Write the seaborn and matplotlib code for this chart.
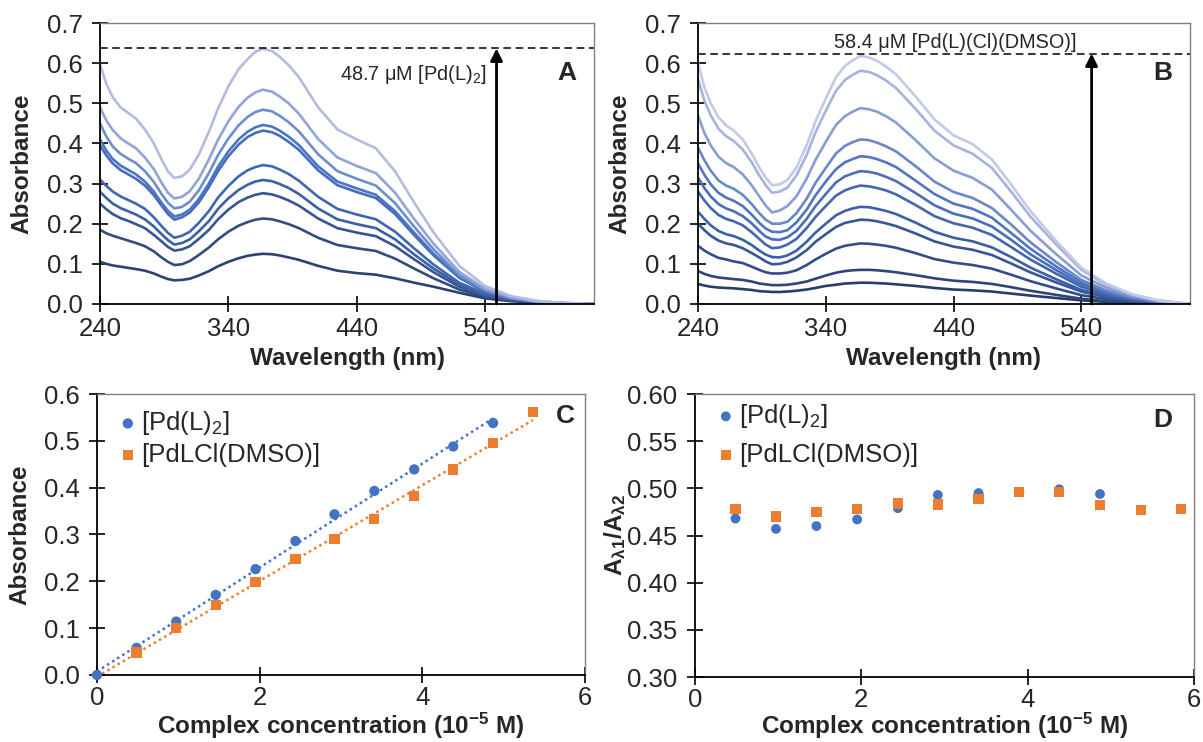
# -*- coding: utf-8 -*-
"""
UV-vis titration spectra of two Pd complexes and Beer-Lambert check
"""

import numpy as np
import pandas as pd
import seaborn as sns
import matplotlib.pyplot as plt
from matplotlib.ticker import FormatStrFormatter

# set theme
sns.set_theme(style="white")
plt.rcParams['font.family'] = ['Liberation Sans', 'DejaVu Sans']
plt.rcParams['mathtext.fontset'] = 'custom'
plt.rcParams['mathtext.rm'] = 'Liberation Sans'
plt.rcParams['mathtext.bf'] = 'Liberation Sans:bold'
plt.rcParams['mathtext.default'] = 'regular'

# wavelengths (nm) at which the spectra were read
wl = [240, 245, 250, 256, 262, 268, 275, 282, 288, 293, 298, 304, 310, 317, 325, 332, 340, 348, 355,
      361, 367, 374, 380, 387, 395, 410, 425, 440, 455, 470, 485, 500, 520, 540, 560, 580, 600, 625]

# panel A: [Pd(L)2] spectra, lowest to highest concentration
spectra_a = [
    [.105, .100, .096, .093, .090, .087, .083, .076, .068, .062, .059, .060, .063, .071, .082, .094, .105, .114, .120,
     .123, .125, .124, .121, .116, .110, .095, .083, .077, .073, .064, .053, .043, .028, .014, .007, .003, .001, 0],
    [.185, .176, .170, .164, .158, .152, .144, .131, .116, .105, .097, .099, .107, .122, .141, .161, .180, .195, .204,
     .210, .213, .211, .206, .199, .189, .165, .147, .139, .132, .113, .088, .064, .036, .018, .009, .004, .002, 0],
    [.250, .236, .224, .214, .207, .199, .189, .172, .156, .142, .133, .136, .144, .162, .185, .211, .235, .254, .265,
     .272, .276, .273, .267, .258, .245, .213, .189, .178, .169, .144, .111, .079, .043, .021, .010, .004, .002, 0],
    [.280, .264, .250, .239, .231, .223, .211, .193, .174, .159, .148, .152, .161, .181, .207, .237, .263, .284, .297,
     .305, .309, .306, .299, .289, .274, .238, .211, .199, .189, .161, .123, .088, .048, .023, .011, .005, .002, 0],
    [.310, .294, .280, .268, .259, .250, .237, .216, .194, .177, .165, .170, .180, .202, .232, .265, .294, .318, .333,
     .341, .346, .343, .335, .324, .307, .267, .237, .223, .211, .180, .138, .098, .053, .026, .012, .005, .002, 0],
    [.395, .370, .350, .334, .323, .312, .295, .271, .245, .224, .210, .216, .228, .253, .292, .331, .368, .397, .416,
     .426, .432, .428, .419, .404, .384, .333, .296, .279, .264, .224, .171, .121, .065, .031, .014, .006, .002, 0],
    [.410, .382, .361, .345, .334, .323, .305, .280, .252, .232, .218, .223, .235, .261, .301, .342, .380, .410, .429,
     .440, .446, .442, .432, .417, .396, .343, .305, .288, .272, .231, .177, .125, .067, .032, .014, .006, .002, 0],
    [.450, .417, .392, .374, .362, .351, .331, .304, .274, .252, .238, .242, .255, .283, .327, .371, .412, .445, .466,
     .478, .484, .480, .469, .453, .430, .373, .331, .312, .295, .251, .192, .136, .072, .035, .015, .006, .002, 0],
    [.490, .457, .433, .413, .400, .388, .365, .336, .302, .277, .263, .267, .281, .312, .361, .409, .455, .491, .514,
     .527, .534, .529, .517, .500, .474, .411, .365, .344, .326, .277, .211, .150, .080, .038, .017, .007, .003, 0],
    [.598, .548, .515, .490, .476, .462, .435, .400, .360, .330, .314, .318, .335, .372, .430, .487, .542, .585, .610,
     .628, .636, .630, .616, .595, .565, .490, .435, .410, .388, .330, .252, .178, .095, .045, .020, .008, .003, 0],
]

# panel B: [Pd(L)(Cl)(DMSO)] spectra, lowest to highest concentration
spectra_b = [
    [.050, .046, .043, .041, .040, .039, .037, .035, .032, .031, .030, .030, .031, .033, .036, .040, .045, .048, .051,
     .052, .053, .053, .052, .051, .049, .045, .040, .036, .034, .031, .026, .021, .015, .009, .005, .002, .001, 0],
    [.082, .075, .070, .066, .064, .062, .060, .056, .051, .049, .047, .047, .048, .051, .056, .063, .071, .078, .082,
     .084, .085, .085, .084, .082, .079, .072, .064, .058, .055, .050, .042, .033, .023, .013, .007, .004, .001, 0],
    [.145, .133, .124, .115, .111, .106, .102, .093, .085, .079, .076, .076, .078, .084, .097, .111, .125, .138, .145,
     .148, .151, .150, .148, .145, .140, .127, .112, .103, .097, .088, .073, .057, .039, .022, .012, .006, .002, 0],
    [.200, .184, .170, .158, .151, .147, .139, .127, .116, .106, .099, .100, .105, .116, .134, .155, .174, .192, .202,
     .206, .210, .209, .206, .201, .194, .176, .156, .143, .135, .122, .101, .079, .054, .031, .017, .008, .003, 0],
    [.230, .212, .196, .182, .174, .169, .160, .147, .133, .123, .117, .116, .121, .133, .155, .178, .200, .221, .232,
     .238, .242, .241, .237, .232, .224, .203, .180, .165, .156, .141, .117, .091, .062, .035, .020, .010, .004, 0],
    [.280, .258, .239, .222, .212, .206, .196, .179, .162, .148, .139, .141, .148, .162, .189, .217, .244, .270, .283,
     .290, .295, .293, .289, .283, .273, .247, .219, .201, .190, .172, .142, .111, .076, .043, .024, .012, .004, 0],
    [.315, .289, .268, .249, .238, .231, .219, .201, .182, .168, .161, .160, .166, .182, .212, .244, .274, .303, .318,
     .325, .331, .329, .325, .317, .306, .277, .246, .225, .213, .193, .160, .124, .085, .048, .027, .013, .005, 0],
    [.350, .322, .298, .277, .265, .257, .244, .223, .202, .188, .180, .179, .184, .203, .235, .271, .305, .336, .353,
     .361, .368, .366, .361, .353, .341, .308, .274, .250, .237, .215, .177, .138, .094, .054, .030, .015, .006, 0],
    [.390, .358, .332, .308, .295, .287, .272, .249, .226, .210, .200, .200, .205, .226, .262, .302, .339, .375, .394,
     .403, .410, .408, .402, .393, .380, .344, .305, .279, .264, .239, .198, .154, .105, .060, .033, .016, .006, 0],
    [.470, .426, .395, .367, .351, .341, .323, .296, .268, .245, .228, .233, .244, .268, .312, .359, .404, .446, .468,
     .479, .488, .485, .479, .468, .452, .409, .363, .332, .314, .285, .235, .183, .125, .071, .040, .020, .007, 0],
    [.560, .507, .470, .437, .418, .406, .385, .353, .320, .296, .277, .280, .290, .320, .371, .428, .481, .531, .558,
     .571, .581, .578, .570, .557, .538, .487, .432, .395, .374, .339, .280, .218, .149, .085, .047, .023, .009, 0],
    [.600, .540, .500, .465, .445, .432, .410, .375, .340, .315, .296, .298, .309, .340, .395, .455, .512, .565, .593,
     .607, .618, .614, .606, .592, .572, .518, .460, .420, .398, .360, .298, .232, .158, .090, .050, .024, .009, 0],
]

# panel C: absorbance vs concentration (1e-5 M)
conc_pdl2 = [0, 0.487, 0.974, 1.46, 1.95, 2.44, 2.92, 3.41, 3.90, 4.38, 4.87]
abs_pdl2 = [0, 0.058, 0.114, 0.171, 0.226, 0.286, 0.343, 0.393, 0.439, 0.488, 0.538]
conc_pdlcl = [0.487, 0.974, 1.46, 1.95, 2.44, 2.92, 3.41, 3.90, 4.38, 4.87, 5.36]
abs_pdlcl = [0.048, 0.100, 0.149, 0.198, 0.248, 0.291, 0.333, 0.382, 0.439, 0.496, 0.562]

# panel D: absorbance ratio vs concentration
ratio_conc_pdl2 = [0.487, 0.974, 1.46, 1.95, 2.44, 2.92, 3.41, 3.90, 4.38, 4.87]
ratio_pdl2 = [0.468, 0.457, 0.460, 0.467, 0.479, 0.493, 0.495, 0.496, 0.499, 0.494]
ratio_conc_pdlcl = [0.487, 0.974, 1.46, 1.95, 2.44, 2.92, 3.41, 3.90, 4.38, 4.87, 5.36, 5.84]
ratio_pdlcl = [0.478, 0.470, 0.475, 0.478, 0.484, 0.483, 0.489, 0.496, 0.496, 0.482, 0.477, 0.478]

label_pdl2 = '[Pd(L)$_2$]'
label_pdlcl = '[PdLCl(DMSO)]'
blue = '#4472C4'
orange = '#ED7D31'

TICK = 18.5
LABEL = 17.5


def long_form(spectra):
    rows = []
    for i, s in enumerate(spectra):
        for w, v in zip(wl, s, strict=True):
            rows.append((w, v, i))
    return pd.DataFrame(rows, columns=['wl', 'abs', 'curve'])


def style(ax, xpad=4):
    for s in ['left', 'bottom']:
        ax.spines[s].set_color('black')
        ax.spines[s].set_linewidth(1.3)
    for s in ['top', 'right']:
        ax.spines[s].set_color('#808080')
        ax.spines[s].set_linewidth(1.0)
    ax.tick_params(direction='inout', length=11, width=1.2, labelsize=TICK,
                   color='black', top=False, right=False, left=True, bottom=True)
    ax.tick_params(axis='y', pad=7)
    ax.tick_params(axis='x', pad=xpad)
    ax.grid(False)


fig = plt.figure(figsize=(12.03, 7.42), dpi=100)
axA = fig.add_axes([0.0831, 0.5903, 0.4107, 0.3787])
axB = fig.add_axes([0.5802, 0.5903, 0.4090, 0.3787])
axC = fig.add_axes([0.0806, 0.0903, 0.4057, 0.3787])
axD = fig.add_axes([0.5777, 0.0876, 0.4148, 0.3814])

# spectra panels
pal_a = sns.blend_palette(['#2c4372', '#3d5fa6', '#4a74c6', '#b3bcdf'], len(spectra_a))
pal_b = sns.blend_palette(['#283d6a', '#3b5ca3', '#5478c4', '#c3c9e6'], len(spectra_b))
panels = [
    (axA, spectra_a, pal_a, 0.6365, 549, 'A',
     ('48.7 μM [Pd(L)$_2$]', 541, 0.572, 'right')),
    (axB, spectra_b, pal_b, 0.624, 548, 'B',
     ('58.4 μM [Pd(L)(Cl)(DMSO)]', 441, 0.652, 'center')),
]
for ax, spectra, pal, top, x_arrow, letter, note in panels:
    sns.lineplot(data=long_form(spectra), x='wl', y='abs', hue='curve',
                 palette=pal, legend=False, linewidth=1.9, ax=ax)
    ax.axhline(top, color='black', lw=1.1, ls=(0, (5, 3)))
    ax.annotate('', xy=(x_arrow, top), xytext=(x_arrow, 0),
                arrowprops=dict(arrowstyle='-|>', lw=2.0, color='black',
                                mutation_scale=18, shrinkA=0, shrinkB=0))
    ax.text(note[1], note[2], note[0], fontsize=14.3, color='#262626',
            ha=note[3], va='center')
    ax.text(604, 0.576, letter, fontsize=19, fontweight='bold',
            ha='center', va='center')
    ax.set_xlim(240, 625)
    ax.set_ylim(0, 0.7)
    ax.set_xticks([240, 340, 440, 540])
    ax.set_yticks(np.arange(0, 0.71, 0.1))
    ax.yaxis.set_major_formatter(FormatStrFormatter('%.1f'))
    ax.set_xlabel('Wavelength (nm)', fontsize=LABEL, fontweight='bold')
    ax.set_ylabel('Absorbance', fontsize=LABEL, fontweight='bold')
    style(ax)
    ax.yaxis.set_label_coords(-0.135, 0.5)
    ax.xaxis.set_label_coords(0.5, -0.152)

# panel C: Beer-Lambert plot with linear trend lines
for x, y, c, m, lab in [(conc_pdl2, abs_pdl2, blue, 'o', label_pdl2),
                        (conc_pdlcl, abs_pdlcl, orange, 's', label_pdlcl)]:
    k = np.polyfit(x, y, 1)
    xs = np.array([0, max(x)])
    sns.lineplot(x=xs, y=np.polyval(k, xs), color=c, lw=1.8,
                 linestyle=(0, (1, 1.4)), ax=axC)
    sns.scatterplot(x=x, y=y, color=c, marker=m, s=55, edgecolor='none',
                    label=lab, ax=axC, clip_on=False, zorder=3)
axC.set_xlim(0, 6)
axC.set_ylim(0, 0.6)
axC.set_xticks([0, 2, 4, 6])
axC.set_yticks(np.arange(0, 0.61, 0.1))
axC.yaxis.set_major_formatter(FormatStrFormatter('%.1f'))
axC.set_ylabel('Absorbance', fontsize=LABEL, fontweight='bold')
axC.text(5.76, 0.552, 'C', fontsize=19, fontweight='bold', ha='center', va='center')

# panel D: absorbance ratio
sns.scatterplot(x=ratio_conc_pdl2, y=ratio_pdl2, color=blue, marker='o', s=50,
                edgecolor='none', label=label_pdl2, ax=axD, zorder=3)
sns.scatterplot(x=ratio_conc_pdlcl, y=ratio_pdlcl, color=orange, marker='s', s=55,
                edgecolor='none', label=label_pdlcl, ax=axD, zorder=4, clip_on=False)
axD.set_xlim(0, 6)
axD.set_ylim(0.30, 0.60)
axD.set_xticks([0, 2, 4, 6])
axD.set_yticks(np.arange(0.30, 0.601, 0.05))
axD.yaxis.set_major_formatter(FormatStrFormatter('%.2f'))
axD.set_ylabel(r'A$_{\mathbf{λ1}}$/A$_{\mathbf{λ2}}$', fontsize=LABEL, fontweight='bold')
axD.text(5.63, 0.572, 'D', fontsize=19, fontweight='bold', ha='center', va='center')

for ax, spacing, top, ylab in [(axC, 0.22, 1.01, -0.18), (axD, 0.5, 1.035, -0.173)]:
    ax.set_xlabel(r'Complex concentration (10$^{\mathbf{-5}}$ M)',
                  fontsize=LABEL, fontweight='bold')
    style(ax, xpad=2.5)
    ax.legend(loc='upper left', bbox_to_anchor=(0.0, top), frameon=False,
              fontsize=TICK, handletextpad=0.02, handlelength=1.0,
              labelspacing=spacing, borderaxespad=0.3, markerscale=1.0)
    ax.yaxis.set_label_coords(-0.135, 0.5)
    ax.xaxis.label.set_verticalalignment('center')
    ax.xaxis.set_label_coords(0.5, ylab)

plt.savefig('out.png', dpi=100)
